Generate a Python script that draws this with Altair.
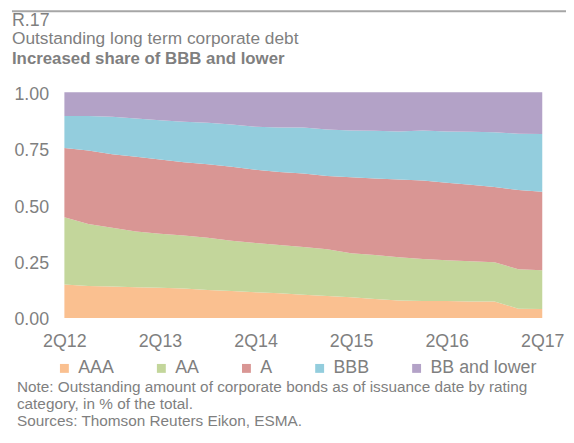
import altair as alt
import pandas as pd

quarters = ["2Q12", "3Q12", "4Q12", "1Q13", "2Q13", "3Q13", "4Q13", "1Q14", "2Q14",
            "3Q14", "4Q14", "1Q15", "2Q15", "3Q15", "4Q15", "1Q16", "2Q16", "3Q16",
            "4Q16", "1Q17", "2Q17"]
x_labels = ["2Q12", "2Q13", "2Q14", "2Q15", "2Q16", "2Q17"]

series = ["AAA", "AA", "A", "BBB", "BB and lower"]
colors = ["#FAC090", "#C3D69B", "#D99694", "#93CDDD", "#B3A2C7"]

aaa = [.148, .142, .139, .136, .134, .130, .124, .119, .114, .109, .103, .097, .092,
       .084, .077, .075, .075, .073, .073, .041, .040]
aa = [.298, .275, .261, .247, .239, .236, .232, .223, .218, .214, .212, .207, .195,
      .195, .192, .186, .181, .178, .174, .175, .171]
a = [.307, .325, .326, .332, .329, .324, .325, .328, .325, .324, .325, .325, .337,
     .339, .345, .348, .343, .340, .334, .351, .349]
bbb = [.142, .153, .166, .169, .174, .180, .184, .188, .191, .197, .204, .206, .207,
       .212, .212, .222, .227, .234, .242, .250, .256]
bb = [.105, .105, .108, .116, .124, .130, .135, .142, .152, .156, .156, .165, .169,
      .170, .174, .169, .174, .175, .177, .183, .184]

y_ticks = [0, 0.25, 0.5, 0.75, 1.0]

title_small = "R.17"
title_sub = "Outstanding long term corporate debt"
title_bold = "Increased share of BBB and lower"
notes = ["Note: Outstanding amount of corporate bonds as of issuance date by rating",
         "category, in % of the total.",
         "Sources: Thomson Reuters Eikon, ESMA."]

rows = []
for k, (name, vals) in enumerate(zip(series, [aaa, aa, a, bbb, bb])):
    for q, v in zip(quarters, vals):
        rows.append({"quarter": q, "rating": name, "share": v, "idx": k})
df = pd.DataFrame(rows)

FONT = "Liberation Sans"
GRAY = "#7f7f7f"

area = alt.Chart(df).mark_area(opacity=1).encode(
    x=alt.X("quarter:O", sort=quarters,
            scale=alt.Scale(type="point", padding=0, domain=quarters),
            axis=alt.Axis(values=x_labels, labelAngle=0, title=None, domain=False,
                          ticks=False, grid=False, labelFontSize=18, labelColor=GRAY,
                          labelFont=FONT, labelPadding=15)),
    y=alt.Y("share:Q", stack="zero",
            scale=alt.Scale(domain=[0, 1], nice=False),
            axis=alt.Axis(values=y_ticks, format=".2f", title=None, domain=False,
                          ticks=False, grid=False, labelFontSize=18, labelColor=GRAY,
                          labelFont=FONT, labelPadding=16, labelOffset=2)),
    color=alt.Color("rating:N", scale=alt.Scale(domain=series, range=colors),
                    legend=alt.Legend(title=None, orient="none", direction="horizontal",
                                      columns=5, legendX=-9, legendY=270,
                                      symbolType="square", symbolSize=81,
                                      symbolStrokeWidth=0, symbolOpacity=1,
                                      labelFontSize=18, labelFont=FONT,
                                      labelColor=GRAY, labelOffset=5,
                                      columnPadding=38, padding=0)),
    order=alt.Order("idx:Q", sort="ascending"),
)

one = alt.Data(values=[{"a": 1}])

def txt(s, x, y, size, bold=False):
    return alt.Chart(one).mark_text(
        align="left", baseline="alphabetic", font=FONT, fontSize=size,
        fontWeight="bold" if bold else "normal", color=GRAY,
    ).encode(x=alt.value(x), y=alt.value(y), text=alt.value(s))

top_line = alt.Chart(one).mark_rule(color="#a6a6a6", strokeWidth=2).encode(
    x=alt.value(-53), x2=alt.value(520), y=alt.value(-82))

layers = [area, top_line,
          txt(title_small, -53, -67, 18),
          txt(title_sub, -53, -48.5, 17.5),
          txt(title_bold, -53, -28.5, 17, bold=True),
          txt(notes[0], -48, 303, 15.5),
          txt(notes[1], -48, 320.5, 15.5),
          txt(notes[2], -48, 337.5, 15.5)]

chart = alt.layer(*layers).properties(
    width=483, height=228,
    autosize=alt.AutoSizeParams(type="none"),
    padding={"left": 57, "top": 83, "right": 24, "bottom": 113},
).configure_view(strokeWidth=0)

chart.save("out.html", embed_options={"renderer": "svg", "actions": False})
